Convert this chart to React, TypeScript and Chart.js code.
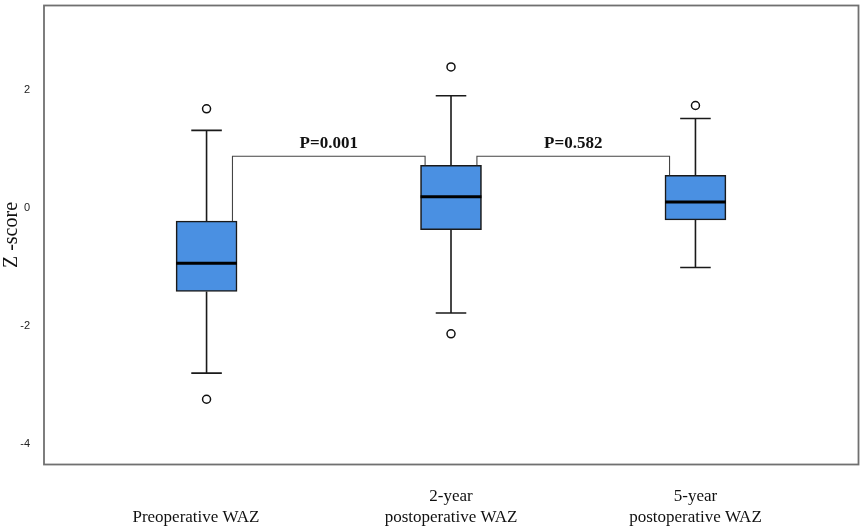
import { useEffect, useRef } from "react";
import { Chart, registerables } from "chart.js";

Chart.register(...registerables);

// ---- data ----
const groupPositions = [1, 2, 3];
const categoryLabels: string[][] = [
  ["", "Preoperative WAZ     "],
  ["2-year", "postoperative WAZ"],
  ["5-year", "postoperative WAZ"],
];
const q1Values = [-1.414, -0.368, -0.204];
const q3Values = [-0.221, 0.724, 0.555];
const medianValues = [-0.935, 0.189, 0.1];
const whiskerLowValues = [-2.797, -1.778, -1.009];
const whiskerHighValues = [1.314, 1.9, 1.516];
const outlierGroups = [1, 1, 2, 2, 3];
const outlierValues = [1.68, -3.24, 2.39, -2.132, 1.736];
const yTickValues = [-4, -2, 0, 2];
const comparisonFrom = [0, 1];
const comparisonTo = [1, 2];
const pLabels = ["P=0.001", "P=0.582"];
const bracketValue = 0.876;

const boxPlotPlugin = {
  id: "boxExtras",
  afterDatasetsDraw(chart: any) {
    const { ctx, scales } = chart;
    const xs = scales.x;
    const ys = scales.y;
    ctx.save();
    // whiskers + caps + medians
    groupPositions.forEach((g, i) => {
      const cx = xs.getPixelForValue(g);
      const capL = xs.getPixelForValue(g - 0.0625);
      const capR = xs.getPixelForValue(g + 0.0625);
      const boxL = xs.getPixelForValue(g - 0.1245);
      const boxR = xs.getPixelForValue(g + 0.1245);
      ctx.strokeStyle = "#1a1a1a";
      ctx.lineWidth = 1.6;
      ctx.beginPath();
      ctx.moveTo(cx, ys.getPixelForValue(q3Values[i]));
      ctx.lineTo(cx, ys.getPixelForValue(whiskerHighValues[i]));
      ctx.moveTo(cx, ys.getPixelForValue(q1Values[i]));
      ctx.lineTo(cx, ys.getPixelForValue(whiskerLowValues[i]));
      ctx.moveTo(capL, ys.getPixelForValue(whiskerHighValues[i]));
      ctx.lineTo(capR, ys.getPixelForValue(whiskerHighValues[i]));
      ctx.moveTo(capL, ys.getPixelForValue(whiskerLowValues[i]));
      ctx.lineTo(capR, ys.getPixelForValue(whiskerLowValues[i]));
      ctx.stroke();
      ctx.lineWidth = 3;
      ctx.strokeStyle = "#000";
      ctx.beginPath();
      ctx.moveTo(boxL, ys.getPixelForValue(medianValues[i]));
      ctx.lineTo(boxR, ys.getPixelForValue(medianValues[i]));
      ctx.stroke();
    });
    // significance brackets
    comparisonFrom.forEach((f, k) => {
      const t = comparisonTo[k];
      const x1 = xs.getPixelForValue(groupPositions[f] + 0.106);
      const x2 = xs.getPixelForValue(groupPositions[t] - 0.106);
      const yTop = ys.getPixelForValue(bracketValue);
      ctx.strokeStyle = "#444";
      ctx.lineWidth = 1.1;
      ctx.beginPath();
      ctx.moveTo(x1, ys.getPixelForValue(q3Values[f]));
      ctx.lineTo(x1, yTop);
      ctx.lineTo(x2, yTop);
      ctx.lineTo(x2, ys.getPixelForValue(q3Values[t]));
      ctx.stroke();
      ctx.fillStyle = "#111";
      ctx.font = "bold 17px 'Liberation Serif', 'Times New Roman', serif";
      ctx.textAlign = "center";
      ctx.textBaseline = "middle";
      ctx.fillText(pLabels[k], (x1 + x2) / 2, yTop - 13);
    });
    ctx.restore();
  },
  afterDraw(chart: any) {
    const { ctx, chartArea } = chart;
    ctx.save();
    ctx.strokeStyle = "#707070";
    ctx.lineWidth = 1.8;
    ctx.strokeRect(
      chartArea.left,
      chartArea.top,
      chartArea.right - chartArea.left,
      chartArea.bottom - chartArea.top
    );
    ctx.restore();
  },
};

export default function App() {
  const canvasRef = useRef<HTMLCanvasElement | null>(null);

  useEffect(() => {
    if (!canvasRef.current) return;
    const chart = new Chart(canvasRef.current, {
      data: {
        datasets: [
          {
            type: "bar",
            data: groupPositions.map((g, i) => ({ x: g, y: [q1Values[i], q3Values[i]] })) as any,
            backgroundColor: "#4a90e2",
            borderColor: "#1a1a1a",
            borderWidth: 1.6,
            borderSkipped: false,
            barThickness: 61,
          } as any,
          {
            type: "scatter",
            data: outlierGroups.map((g, i) => ({ x: g, y: outlierValues[i] })),
            pointStyle: "circle",
            pointRadius: 4,
            pointBorderWidth: 1.5,
            pointBackgroundColor: "#fff",
            pointBorderColor: "#111",
          } as any,
        ],
      },
      options: {
        animation: false,
        responsive: true,
        maintainAspectRatio: false,
        layout: { padding: { top: 3.5, right: 3.5, left: 0, bottom: 0 } },
        plugins: {
          legend: { display: false },
          tooltip: { enabled: false },
        },
        scales: {
          x: {
            type: "linear",
            min: 0.335,
            max: 3.667,
            offset: false,
            grid: { display: false },
            border: { display: false },
            afterBuildTicks: (scale: any) => {
              scale.ticks = groupPositions.map((v) => ({ value: v }));
            },
            afterFit: (scale: any) => {
              scale.height = 67.5;
              scale.paddingLeft = 0;
              scale.paddingRight = 0;
            },
            ticks: {
              autoSkip: false,
              maxRotation: 0,
              minRotation: 0,
              padding: 14,
              color: "#111",
              font: { family: "'Liberation Serif', 'Times New Roman', serif", size: 17, lineHeight: 1.235 },
              callback: (value: any) => {
                const idx = groupPositions.indexOf(Number(value));
                return idx >= 0 ? categoryLabels[idx] : "";
              },
            },
          },
          y: {
            type: "linear",
            min: -4.345,
            max: 3.43,
            grid: { display: false },
            border: { display: false },
            afterBuildTicks: (scale: any) => {
              scale.ticks = yTickValues.map((v) => ({ value: v }));
            },
            afterFit: (scale: any) => {
              scale.width = 44;
              scale.paddingTop = 0;
              scale.paddingBottom = 0;
            },
            ticks: {
              padding: 6,
              color: "#222",
              font: { family: "'Liberation Sans', Arial, sans-serif", size: 11 },
            },
            title: {
              display: true,
              text: "Z -score",
              color: "#111",
              padding: { top: 2, bottom: 0 },
              font: { family: "'Liberation Serif', 'Times New Roman', serif", size: 20, lineHeight: 1 },
            },
          },
        },
      } as any,
      plugins: [boxPlotPlugin],
    });
    return () => chart.destroy();
  }, []);

  return (
    <div style={{ position: "fixed", left: 0, top: 0, width: 864, height: 532, background: "#fff" }}>
      <canvas ref={canvasRef} />
    </div>
  );
}
